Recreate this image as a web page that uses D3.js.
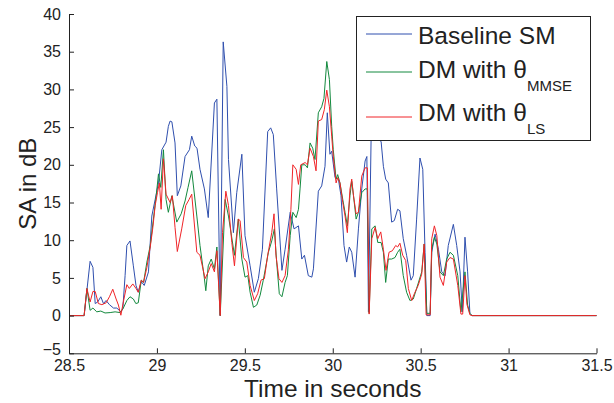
<!DOCTYPE html>
<html><head><meta charset="utf-8">
<script src="https://cdn.jsdelivr.net/npm/d3@7"></script>
<style>body{margin:0;background:#fff;} svg{display:block;font-family:"Liberation Sans",Arial,sans-serif;}</style>
</head><body>
<svg id="c" width="614" height="403"></svg>
<script>
const xTicks = [28.5, 29, 29.5, 30, 30.5, 31, 31.5];
const yTicks = [-5, 0, 5, 10, 15, 20, 25, 30, 35, 40];
const seriesNames = ["Baseline SM", "DM with θ", "DM with θ"];
const seriesSubs = ["", "MMSE", "LS"];

const baseline = [[28.5,0],[28.586,0],[28.620,7.2],[28.636,6.4],[28.649,1.6],[28.663,1.8],[28.681,2.5],[28.696,1.6],[28.711,2.0],[28.730,1.45],[28.753,1.0],[28.772,1.0],[28.795,0.5],[28.806,0.9],[28.819,5.3],[28.829,9.3],[28.847,9.9],[28.866,6.6],[28.881,4.0],[28.894,3.1],[28.911,4.5],[28.928,4.0],[28.952,5.8],[28.971,13.2],[28.990,15.4],[29.009,17.6],[29.028,22],[29.052,23],[29.065,25.1],[29.075,25.8],[29.085,25.7],[29.103,22.9],[29.116,15.9],[29.136,17.2],[29.160,21.1],[29.185,22.0],[29.198,23.8],[29.215,22.5],[29.228,22.2],[29.245,19.4],[29.270,16.8],[29.292,13.0],[29.327,28.2],[29.341,28.7],[29.360,0],[29.377,36.3],[29.398,30.4],[29.407,20.7],[29.435,11.0],[29.454,16.3],[29.483,21.4],[29.501,10.6],[29.530,6.6],[29.554,3.1],[29.577,4.9],[29.600,8.8],[29.630,24.4],[29.647,24.9],[29.662,24.0],[29.681,16.8],[29.711,6.0],[29.729,8.8],[29.758,13.7],[29.780,11.5],[29.805,11.9],[29.824,7.5],[29.839,8.0],[29.861,5.3],[29.881,5.1],[29.890,6.2],[29.918,16.5],[29.937,17.2],[29.956,19.8],[29.969,26.9],[29.984,21.4],[29.994,21.8],[30.013,18.3],[30.032,18.1],[30.047,15.9],[30.064,9.3],[30.079,7.1],[30.094,9.1],[30.108,8.4],[30.127,5.1],[30.146,11.5],[30.165,16.8],[30.184,20.5],[30.194,21.1],[30.203,0.5],[30.218,23.4],[30.235,27],[30.256,23.4],[30.275,23.1],[30.288,19.8],[30.301,18.1],[30.316,17.6],[30.335,12.4],[30.350,12.6],[30.369,14.1],[30.382,13.9],[30.401,10.2],[30.420,8.0],[30.445,4.7],[30.458,5.3],[30.477,12.8],[30.496,20.9],[30.512,19.4],[30.525,8.4],[30.535,0],[30.554,0],[30.563,8.4],[30.582,10.8],[30.601,8.8],[30.620,5.8],[30.639,5.3],[30.657,9.3],[30.686,12.1],[30.705,9.3],[30.724,5.8],[30.737,0.5],[30.752,10.4],[30.767,5.8],[30.780,0.3],[30.792,0],[31.5,0]];

const dmMMSE = [[28.5,0],[28.586,0],[28.602,3.6],[28.620,0.7],[28.636,1.0],[28.658,0.5],[28.681,0.6],[28.705,0.35],[28.734,0.4],[28.762,0.5],[28.791,0.4],[28.809,1.0],[28.829,2.0],[28.847,2.5],[28.866,2.2],[28.880,1.6],[28.894,1.7],[28.911,4.7],[28.924,4.4],[28.943,7.1],[28.962,9.3],[28.980,12.8],[28.996,15.9],[29.009,18.8],[29.022,17.0],[29.037,22.0],[29.052,15.4],[29.065,13.7],[29.085,15.9],[29.113,12.4],[29.138,13.5],[29.160,15.2],[29.177,17],[29.198,19.2],[29.227,13.2],[29.245,9.3],[29.270,4.9],[29.278,3.3],[29.292,6.6],[29.309,7.5],[29.327,6.2],[29.341,9.1],[29.360,0],[29.388,15.4],[29.407,13.2],[29.441,8.0],[29.463,12.8],[29.483,7.5],[29.501,5.1],[29.517,5.3],[29.530,3.1],[29.549,1.1],[29.568,1.4],[29.587,2.7],[29.605,4.7],[29.634,8.4],[29.653,9.9],[29.668,11.5],[29.681,7.1],[29.696,2.9],[29.711,2.5],[29.729,4.4],[29.742,5.3],[29.758,10.6],[29.773,13.7],[29.792,13.0],[29.805,14.1],[29.814,16.8],[29.824,20.0],[29.843,20.0],[29.856,19.6],[29.871,22.9],[29.886,22.2],[29.899,20.7],[29.918,26.9],[29.937,27.7],[29.950,28.8],[29.966,33.7],[29.981,31.3],[29.994,25.1],[30.003,22.0],[30.019,18.1],[30.028,18.7],[30.041,17.6],[30.057,15.4],[30.070,13.7],[30.083,11.9],[30.098,15.9],[30.108,17.8],[30.118,15.9],[30.133,12.8],[30.146,13.7],[30.165,16.3],[30.184,16.8],[30.197,16.8],[30.207,0.3],[30.222,11.5],[30.241,11.9],[30.256,9.7],[30.275,9.7],[30.288,8.4],[30.301,4.4],[30.316,7.5],[30.335,7.5],[30.354,7.7],[30.369,8.4],[30.382,8.8],[30.401,5.3],[30.420,3.1],[30.439,2.0],[30.458,2.2],[30.477,3.6],[30.506,5.8],[30.520,9.5],[30.535,0.3],[30.554,0.3],[30.563,8.8],[30.578,10.4],[30.592,9.5],[30.610,5.8],[30.629,5.3],[30.648,7.5],[30.667,8.4],[30.686,8.0],[30.711,5.3],[30.729,0.5],[30.752,5.8],[30.767,1.4],[30.780,0.3],[30.792,0],[31.5,0]];

const dmLS = [[28.5,0],[28.586,0],[28.602,3.6],[28.620,1.8],[28.636,3.2],[28.649,3.2],[28.667,1.6],[28.687,1.45],[28.711,1.7],[28.730,2.5],[28.749,3.5],[28.768,2.2],[28.781,1.4],[28.795,0.05],[28.809,1.8],[28.829,4.1],[28.843,3.6],[28.863,4.2],[28.881,3.6],[28.894,3.1],[28.911,4.7],[28.924,4.4],[28.943,6.4],[28.962,9.1],[28.977,11.7],[28.990,14.6],[29.003,16.3],[29.014,17.6],[29.024,14.1],[29.037,20.8],[29.052,16.1],[29.075,15.0],[29.088,15.9],[29.103,11.7],[29.116,8.5],[29.141,11.5],[29.164,14.6],[29.183,15.4],[29.198,16.1],[29.227,8.4],[29.245,8.0],[29.274,4.9],[29.292,5.8],[29.309,6.9],[29.327,5.8],[29.341,8.6],[29.360,0],[29.373,11.0],[29.392,16.5],[29.407,14.6],[29.426,9.7],[29.441,6.6],[29.463,12.8],[29.473,12.6],[29.492,7.7],[29.511,7.1],[29.530,4.0],[29.554,2.0],[29.573,2.9],[29.592,4.7],[29.611,4.9],[29.630,8.0],[29.653,11.0],[29.666,13.5],[29.677,8.0],[29.694,4.9],[29.711,4.4],[29.729,5.3],[29.748,8.8],[29.762,14.1],[29.773,20.0],[29.792,19.4],[29.805,17.4],[29.818,20.0],[29.843,20.3],[29.856,20.0],[29.871,22.2],[29.890,21.1],[29.905,19.2],[29.918,25.8],[29.937,26.0],[29.952,27.3],[29.966,29.9],[29.981,27.7],[29.994,23.8],[30.003,21.1],[30.019,17.6],[30.028,18.3],[30.041,17.6],[30.057,15.0],[30.070,13.2],[30.083,11.0],[30.098,16.8],[30.108,18.1],[30.118,15.9],[30.133,13.5],[30.146,13.7],[30.165,18.5],[30.184,19.6],[30.197,19.6],[30.207,0.2],[30.222,10.2],[30.241,11.7],[30.256,10.2],[30.273,11.1],[30.288,8.8],[30.303,6.0],[30.320,8.4],[30.339,8.6],[30.358,9.3],[30.369,9.1],[30.382,9.6],[30.398,8.0],[30.415,7.3],[30.430,3.6],[30.449,2.0],[30.464,2.9],[30.486,4.0],[30.506,5.5],[30.520,9.5],[30.531,0.1],[30.554,0.1],[30.563,10.2],[30.578,11.9],[30.592,10.6],[30.610,5.1],[30.629,4.0],[30.648,7.1],[30.667,7.7],[30.686,7.5],[30.711,4.0],[30.729,0.2],[30.739,0.2],[30.752,5.3],[30.763,1.5],[30.780,0.1],[30.792,0],[31.5,0]];

const colors = ["#2f4fae", "#13893e", "#f02428"];

const svg = d3.select("#c");
const L = 69, R = 596.5, T = 14, B = 353.3;
const x = d3.scaleLinear().domain([28.5, 31.5]).range([L, R]);
const y = d3.scaleLinear().domain([-5, 40]).range([B, T]);
const txt = "#222";

// lines
const line = d3.line().x(d => x(d[0])).y(d => y(d[1]));
[baseline, dmMMSE, dmLS].forEach((s, i) => {
  svg.append("path").datum(s).attr("d", line)
    .attr("fill", "none").attr("stroke", colors[i]).attr("stroke-width", 1)
    .attr("stroke-linejoin", "round");
});

// axes
const fmt = v => (v < 0 ? "\u2212" + Math.abs(v) : String(v));
const xAxis = d3.axisBottom(x).tickValues(xTicks).tickSizeInner(-5).tickSizeOuter(0).tickPadding(6).tickFormat(fmt);
const gx = svg.append("g").attr("transform", `translate(0,${B})`).call(xAxis);
const yAxis = d3.axisLeft(y).tickValues(yTicks).tickSizeInner(-5).tickSizeOuter(0).tickPadding(8).tickFormat(fmt);
const gy = svg.append("g").attr("transform", `translate(${L},0)`).call(yAxis);
[gx, gy].forEach(g => {
  g.select(".domain").attr("stroke", "#222").attr("stroke-width", 1);
  g.selectAll(".tick line").attr("stroke", "#222");
  g.selectAll(".tick text").attr("fill", txt).style("font-size", "16px").style("font-family", "'Liberation Sans', Arial, sans-serif");
});
// lift the lowest y label a little so it clears the x tick labels
gy.selectAll(".tick text").filter(d => d === -5).attr("dy", "0.05em");

// axis labels
svg.append("text").attr("x", (L + R) / 2).attr("y", 397).attr("text-anchor", "middle")
  .attr("fill", txt).style("font-size", "24.5px").text("Time in seconds");
svg.append("text").attr("transform", `translate(36,${(T + B) / 2}) rotate(-90)`).attr("text-anchor", "middle")
  .attr("fill", txt).style("font-size", "24px").text("SA in dB");

// legend
const lg = svg.append("g");
lg.append("rect").attr("x", 356.5).attr("y", 16.5).attr("width", 234).attr("height", 124)
  .attr("fill", "#fff").attr("stroke", "#222").attr("stroke-width", 1);
const rowsY = [34, 72, 117];
const baseY = [44, 78, 121];
seriesNames.forEach((n, i) => {
  lg.append("line").attr("x1", 366).attr("x2", 412).attr("y1", rowsY[i]).attr("y2", rowsY[i])
    .attr("stroke", colors[i]).attr("stroke-width", 1);
  const t = lg.append("text").attr("x", 418).attr("y", baseY[i]).attr("fill", txt).style("font-size", "24.5px");
  t.append("tspan").text(n);
  if (seriesSubs[i]) {
    t.append("tspan").attr("dy", 13).style("font-size", "15px").text(seriesSubs[i]);
  }
});
</script>
</body></html>
